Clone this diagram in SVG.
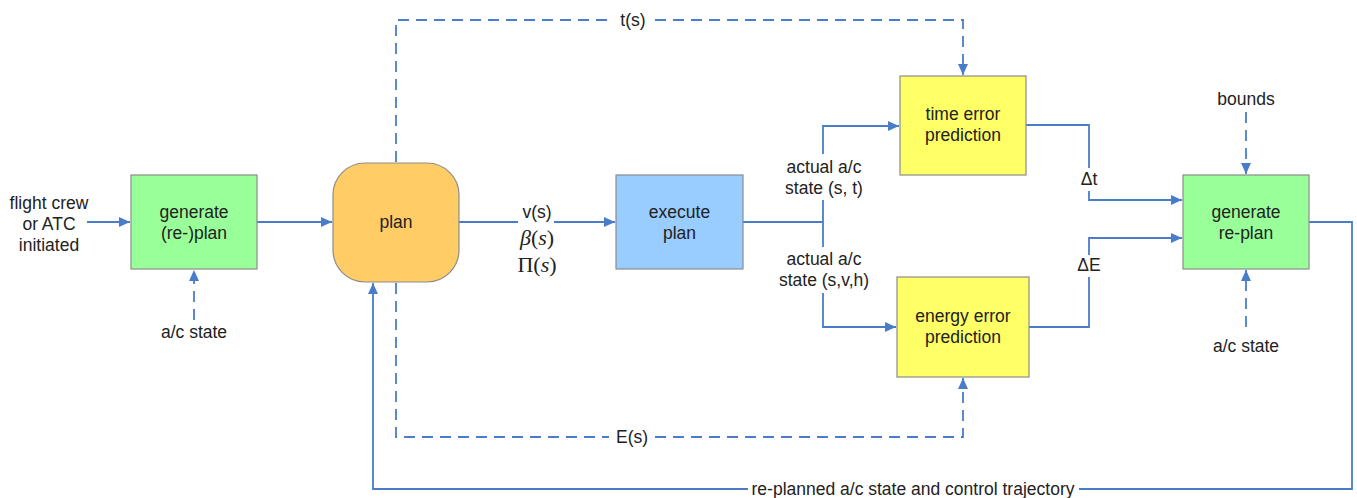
<svg xmlns="http://www.w3.org/2000/svg" width="1357" height="498" viewBox="0 0 1357 498">
  <style>
    .box { stroke: #8c8c8c; stroke-width: 1.2; }
    .lbl { font-family: "Liberation Sans", Arial, sans-serif; font-size: 17.5px; fill: #222; text-anchor: middle; }
    .math { font-family: "Liberation Serif", "Times New Roman", serif; font-size: 22px; fill: #222; text-anchor: middle; }
    .wire { fill: none; stroke: #4a7dc9; stroke-width: 1.8; }
    .dash { fill: none; stroke: #4a7dc9; stroke-width: 1.8; stroke-dasharray: 11 7; }
  </style>
  <defs>
    <marker id="arrow" markerUnits="userSpaceOnUse" markerWidth="12" markerHeight="12" viewBox="0 0 12 12" refX="11" refY="6" orient="auto">
      <path d="M0,1 L11,6 L0,11 Z" fill="#4a7dc9"/>
    </marker>
  </defs>
  <rect width="1357" height="498" fill="#ffffff"/>

  <!-- connectors -->
  <g id="connectors">
    <!-- external trigger into generate (re-)plan -->
    <path class="wire" d="M87,222 H130" marker-end="url(#arrow)"/>
    <!-- a/c state into generate (re-)plan -->
    <path class="dash" d="M194,320 V270" marker-end="url(#arrow)"/>
    <!-- generate (re-)plan to plan -->
    <path class="wire" d="M257,222 H332" marker-end="url(#arrow)"/>
    <!-- plan to execute plan -->
    <path class="wire" d="M459,222 H518"/>
    <path class="wire" d="M554,222 H615" marker-end="url(#arrow)"/>
    <!-- t(s) reference to time error prediction -->
    <path class="dash" d="M396,162 V20 H612"/>
    <path class="dash" d="M655,20 H963 V75" marker-end="url(#arrow)"/>
    <!-- E(s) reference to energy error prediction -->
    <path class="dash" d="M396,283 V437 H609"/>
    <path class="dash" d="M655,437 H963 V378" marker-end="url(#arrow)"/>
    <!-- measured state split -->
    <path class="wire" d="M743,222 H823"/>
    <path class="wire" d="M823,154 V126 H899" marker-end="url(#arrow)"/>
    <path class="wire" d="M823,200 V247"/>
    <path class="wire" d="M823,293 V327 H896" marker-end="url(#arrow)"/>
    <!-- time error to generate re-plan -->
    <path class="wire" d="M1026,125 H1089 V168"/>
    <path class="wire" d="M1089,191 V200 H1182" marker-end="url(#arrow)"/>
    <!-- energy error to generate re-plan -->
    <path class="wire" d="M1029,327 H1089 V277"/>
    <path class="wire" d="M1089,255 V238 H1182" marker-end="url(#arrow)"/>
    <!-- bounds and a/c state into generate re-plan -->
    <path class="dash" d="M1246,112 V174" marker-end="url(#arrow)"/>
    <path class="dash" d="M1246,327 V270" marker-end="url(#arrow)"/>
    <!-- re-planned trajectory back to plan -->
    <path class="wire" d="M1309,222 H1352 V489 H1079"/>
    <path class="wire" d="M748,489 H373 V283" marker-end="url(#arrow)"/>
  </g>

  <!-- connector labels -->
  <g id="labels">
    <text class="lbl" x="49" y="209">flight crew</text>
    <text class="lbl" x="49" y="230">or ATC</text>
    <text class="lbl" x="49" y="251">initiated</text>
    <text class="lbl" x="194" y="338">a/c state</text>
    <text class="lbl" x="537" y="218">v(s)</text>
    <text class="math" x="537" y="245"><tspan font-style="italic">β</tspan>(<tspan font-style="italic">s</tspan>)</text>
    <text class="math" x="537" y="272">Π(<tspan font-style="italic">s</tspan>)</text>
    <text class="lbl" x="633" y="26">t(s)</text>
    <text class="lbl" x="632" y="443">E(s)</text>
    <text class="lbl" x="824" y="173">actual a/c</text>
    <text class="lbl" x="824" y="194">state (s, t)</text>
    <text class="lbl" x="824" y="265">actual a/c</text>
    <text class="lbl" x="824" y="286">state (s,v,h)</text>
    <text class="lbl" x="1089" y="185">Δt</text>
    <text class="lbl" x="1089" y="271">ΔE</text>
    <text class="lbl" x="1246" y="105">bounds</text>
    <text class="lbl" x="1246" y="352">a/c state</text>
    <text class="lbl" x="913" y="495">re-planned a/c state and control trajectory</text>
  </g>

  <!-- nodes -->
  <g id="generate-plan">
    <rect class="box" x="131" y="175" width="126" height="94" fill="#99ff99"/>
    <text class="lbl" x="194" y="218">generate</text>
    <text class="lbl" x="194" y="239">(re-)plan</text>
  </g>
  <g id="plan">
    <rect class="box" x="333" y="163" width="126" height="119" rx="32" ry="32" fill="#ffcc66"/>
    <text class="lbl" x="396" y="228">plan</text>
  </g>
  <g id="execute-plan">
    <rect class="box" x="616" y="175" width="127" height="94" fill="#99ccff"/>
    <text class="lbl" x="679.5" y="218">execute</text>
    <text class="lbl" x="679.5" y="239">plan</text>
  </g>
  <g id="time-error-prediction">
    <rect class="box" x="900" y="76" width="126" height="99" fill="#ffff66"/>
    <text class="lbl" x="963" y="120">time error</text>
    <text class="lbl" x="963" y="141">prediction</text>
  </g>
  <g id="energy-error-prediction">
    <rect class="box" x="897" y="277" width="132" height="100" fill="#ffff66"/>
    <text class="lbl" x="963" y="322">energy error</text>
    <text class="lbl" x="963" y="343">prediction</text>
  </g>
  <g id="generate-replan">
    <rect class="box" x="1183" y="175" width="126" height="94" fill="#99ff99"/>
    <text class="lbl" x="1246" y="218">generate</text>
    <text class="lbl" x="1246" y="239">re-plan</text>
  </g>
</svg>
